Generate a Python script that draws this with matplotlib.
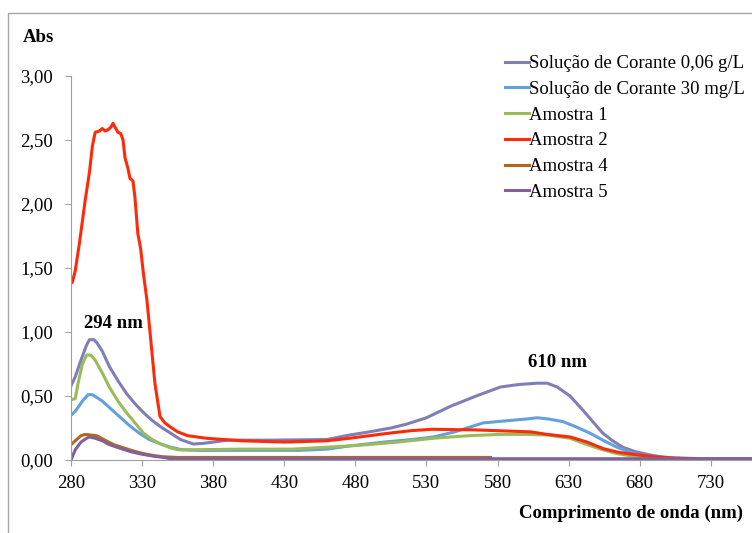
import numpy as np
import matplotlib
matplotlib.use('Agg')
import matplotlib.pyplot as plt
from matplotlib.patches import Rectangle
from matplotlib.ticker import FuncFormatter

plt.rcParams['font.family'] = ['Liberation Serif', 'DejaVu Serif']

# Solucao de Corante 0,06 g/L
nm_s1 = [280, 283, 287, 291, 293, 296, 298, 302, 307, 313, 319, 325, 331, 337, 343, 350, 357, 366, 373, 380, 390,
         420, 460, 476, 490, 505, 516, 530, 547, 565, 582, 595, 608, 615, 622, 631, 640, 647, 654, 661, 668, 677, 687,
         695, 705, 730, 760]
y_s1 = [0.58, 0.65, 0.78, 0.90, 0.94, 0.94, 0.92, 0.85, 0.73, 0.62, 0.52, 0.44, 0.37, 0.31, 0.26, 0.21, 0.16, 0.125,
        0.13, 0.14, 0.155, 0.155, 0.16, 0.195, 0.22, 0.25, 0.28, 0.33, 0.42, 0.50, 0.57, 0.59, 0.60, 0.60, 0.57, 0.50,
        0.39, 0.30, 0.21, 0.15, 0.10, 0.065, 0.04, 0.025, 0.015, 0.01, 0.01]

# Solucao de Corante 30 mg/L
nm_s2 = [280, 283, 288, 292, 295, 298, 302, 308, 314, 321, 328, 335, 342, 350, 358, 370, 400, 440, 460, 476, 500, 520,
         535, 550, 570, 590, 600, 608, 616, 626, 635, 645, 655, 664, 672, 680, 690, 700, 730, 760]
y_s2 = [0.35, 0.38, 0.46, 0.51, 0.51, 0.49, 0.46, 0.40, 0.34, 0.27, 0.21, 0.16, 0.13, 0.10, 0.08, 0.075, 0.075, 0.075,
        0.085, 0.11, 0.14, 0.16, 0.18, 0.22, 0.29, 0.31, 0.32, 0.33, 0.32, 0.30, 0.26, 0.21, 0.15, 0.10, 0.065, 0.04,
        0.02, 0.012, 0.01, 0.01]

# Amostra 1
nm_a1 = [280, 283, 285, 288, 291, 294, 297, 302, 307, 313, 319, 325, 331, 337, 343, 350, 355, 365, 400, 436, 460, 483,
         510, 535, 560, 582, 600, 615, 631, 643, 654, 664, 675, 690, 710, 760]
y_a1 = [0.47, 0.48, 0.60, 0.75, 0.82, 0.82, 0.78, 0.68, 0.57, 0.46, 0.37, 0.29, 0.21, 0.16, 0.125, 0.095, 0.08, 0.08,
        0.085, 0.085, 0.10, 0.115, 0.14, 0.17, 0.19, 0.20, 0.20, 0.195, 0.17, 0.12, 0.08, 0.05, 0.03, 0.015, 0.01,
        0.01]

# Amostra 2
nm_a2 = [280, 281, 283, 286, 290, 293, 295, 297, 300, 302, 304, 306, 308, 309.5, 311, 313, 315, 316.6, 318, 320,
         321.5, 323.6, 325, 327, 329, 331, 333.4, 336, 339, 342.6, 346, 349.6, 355, 362, 375, 400, 430, 460, 476, 504,
         520, 534, 565, 590, 603, 615, 631, 643, 654, 665, 675, 690, 705, 718]
y_a2 = [1.38, 1.39, 1.48, 1.70, 2.03, 2.25, 2.45, 2.56, 2.57, 2.59, 2.57, 2.58, 2.60, 2.63, 2.60, 2.56, 2.55, 2.50,
        2.36, 2.28, 2.20, 2.18, 2.05, 1.77, 1.65, 1.45, 1.25, 0.95, 0.60, 0.34, 0.29, 0.26, 0.22, 0.19, 0.17, 0.15,
        0.14, 0.15, 0.17, 0.21, 0.23, 0.24, 0.235, 0.225, 0.22, 0.20, 0.18, 0.14, 0.09, 0.06, 0.045, 0.025, 0.015,
        0.01]

# Amostra 4
nm_a4 = [280, 283, 287, 290, 294, 298, 303, 310, 317, 324, 331, 338, 345, 355, 400, 500, 575]
y_a4 = [0.12, 0.15, 0.19, 0.20, 0.195, 0.19, 0.16, 0.12, 0.095, 0.07, 0.05, 0.035, 0.025, 0.02, 0.02, 0.02, 0.02]

# Amostra 5
nm_a5 = [280, 283, 287, 291, 293, 297, 302, 307, 315, 322, 330, 338, 345, 350, 400, 500, 600, 700, 760]
y_a5 = [0.0, 0.08, 0.14, 0.17, 0.18, 0.17, 0.15, 0.12, 0.09, 0.065, 0.045, 0.03, 0.02, 0.01, 0.01, 0.01, 0.01, 0.01,
        0.01]

series = [
    ('Solução de Corante 0,06 g/L', nm_s1, y_s1, '#7f7fb5'),
    ('Solução de Corante 30 mg/L', nm_s2, y_s2, '#64a0dc'),
    ('Amostra 1', nm_a1, y_a1, '#9bbb59'),
    ('Amostra 2', nm_a2, y_a2, '#ff2a0a'),
    ('Amostra 4', nm_a4, y_a4, '#b5651d'),
    ('Amostra 5', nm_a5, y_a5, '#7e6299'),
]

fs = 13.5

fig = plt.figure(figsize=(7.52, 5.33), dpi=100)
fig.patches.append(Rectangle((8/752, -0.1), 1.2, 1.1 - 13/533, transform=fig.transFigure,
                             fill=False, edgecolor='#a6a6a6', linewidth=1.0))
ax = fig.add_axes([71/752, 73/533, 681/752, 384/533])

for lab, xs, ys, c in series:
    ax.plot(xs, ys, color=c, lw=2.2, label=lab)

ax.set_xlim(280, 759)
ax.set_ylim(0, 3.0)
ax.set_xticks(np.arange(280, 731, 50))
ax.set_yticks(np.arange(0, 3.01, 0.5))
ax.yaxis.set_major_formatter(FuncFormatter(lambda v, p: ('%.2f' % v).replace('.', ',')))
for s in ['top', 'right']:
    ax.spines[s].set_visible(False)
for s in ['left', 'bottom']:
    ax.spines[s].set_color('#a0a0a0')
ax.tick_params(axis='both', colors='#a0a0a0', labelcolor='black', labelsize=fs, length=4, direction='out')
ax.tick_params(axis='x', pad=7)
ax.tick_params(axis='y', pad=9)

fig.text(23/752, 1 - 37/533, 'Abs', fontsize=fs, fontweight='bold', va='center', ha='left')
fig.text(743/752, 1 - 513/533, 'Comprimento de onda (nm)', fontsize=fs, fontweight='bold', va='center', ha='right')
ax.text(310, 1.07, '294 nm', fontsize=fs, fontweight='bold', ha='center', va='center')
ax.text(622, 0.76, '610 nm', fontsize=fs, fontweight='bold', ha='center', va='center')

ax.legend(loc='upper left', bbox_to_anchor=(505/752, 1 - 55/533), bbox_transform=fig.transFigure,
          frameon=False, fontsize=fs, handlelength=1.3, handletextpad=0.0, labelspacing=0.46,
          borderpad=0, borderaxespad=0)

fig.savefig('out.png', dpi=100)
